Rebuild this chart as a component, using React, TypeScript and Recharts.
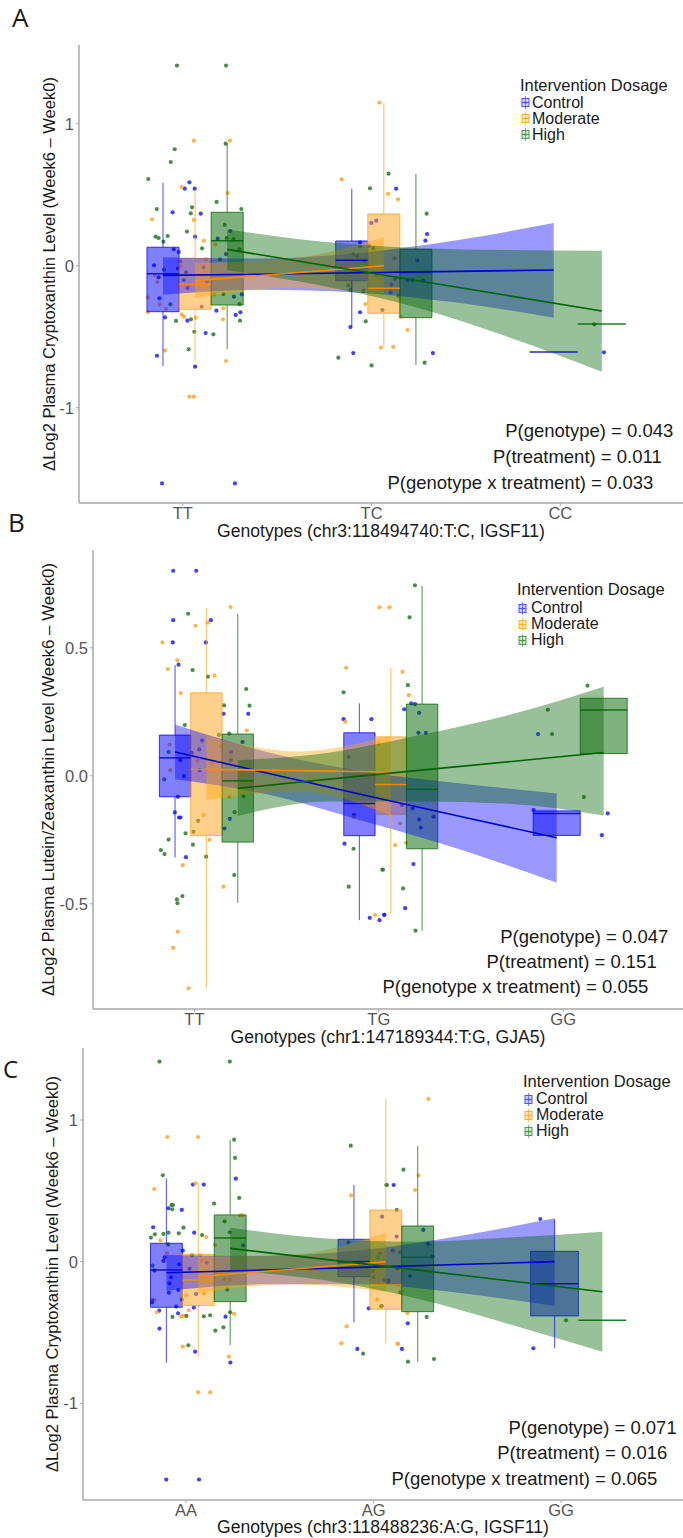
import React from 'react';
import { ComposedChart, XAxis, YAxis, Scatter, Line, Area, ReferenceArea, ReferenceLine } from 'recharts';

type Trt = 'Control' | 'Moderate' | 'High';
type Box = { cat: number; trt: Trt; lo: number; q1: number; med: number; q3: number; hi: number };
type Fit = { x: number; fit: number; lo: number; hi: number };
type Pt = [number, number];

const treatments: Trt[] = ['Control', 'Moderate', 'High'];
const legendTitle = 'Intervention Dosage';

// ---------- panel A ----------
const genotypesA = ['TT', 'TC', 'CC'];
const xTitleA = 'Genotypes (chr3:118494740:T:C, IGSF11)';
const yTitleA = 'ΔLog2 Plasma Cryptoxanthin Level (Week6 – Week0)';
const pvalsA = ['P(genotype) = 0.043', 'P(treatment) = 0.011', 'P(genotype x treatment) = 0.033'];

const boxesA: Box[] = [
  { cat: 1, trt: 'Control', lo: -0.707, q1: -0.324, med: -0.056, q3: 0.13, hi: 0.584 },
  { cat: 1, trt: 'Moderate', lo: -0.664, q1: -0.307, med: -0.131, q3: 0.052, hi: 0.533 },
  { cat: 1, trt: 'High', lo: -0.589, q1: -0.277, med: 0.176, q3: 0.376, hi: 0.862 },
  { cat: 2, trt: 'Control', lo: -0.43, q1: -0.106, med: 0.038, q3: 0.174, hi: 0.542 },
  { cat: 2, trt: 'Moderate', lo: -0.57, q1: -0.335, med: -0.159, q3: 0.364, hi: 1.148 },
  { cat: 2, trt: 'High', lo: -0.7, q1: -0.366, med: -0.048, q3: 0.115, hi: 0.646 },
  { cat: 3, trt: 'Control', lo: -0.608, q1: -0.608, med: -0.608, q3: -0.608, hi: -0.608 },
  { cat: 3, trt: 'High', lo: -0.41, q1: -0.41, med: -0.41, q3: -0.41, hi: -0.41 },
];

const fitControlA: Fit[] = [
  { x: 0.895, fit: -0.068, lo: -0.205, hi: 0.06 },
  { x: 1.41, fit: -0.06, lo: -0.17, hi: 0.05 },
  { x: 1.93, fit: -0.05, lo: -0.19, hi: 0.09 },
  { x: 2.45, fit: -0.04, lo: -0.26, hi: 0.18 },
  { x: 2.965, fit: -0.03, lo: -0.366, hi: 0.3 },
];
const fitModerateA: Fit[] = [
  { x: 1.065, fit: -0.105, lo: -0.23, hi: 0.02 },
  { x: 1.565, fit: -0.053, lo: -0.155, hi: 0.05 },
  { x: 2.065, fit: 0.0, lo: -0.2, hi: 0.2 },
];
const fitHighA: Fit[] = [
  { x: 1.235, fit: 0.115, lo: -0.03, hi: 0.255 },
  { x: 1.73, fit: 0.007, lo: -0.14, hi: 0.17 },
  { x: 2.23, fit: -0.102, lo: -0.29, hi: 0.125 },
  { x: 2.72, fit: -0.21, lo: -0.5, hi: 0.11 },
  { x: 3.22, fit: -0.319, lo: -0.746, hi: 0.106 },
];

const ptsControlA: Pt[] = [
  [1.035, 0.587], [1.01, 0.542], [1.063, 0.542], [0.946, 0.376], [1.095, 0.366], [1.065, 0.204], [0.952, 0.115],
  [0.978, 0.096], [1.185, 0.19], [1.252, 0.244], [1.229, 0.082], [0.985, 0.031], [0.847, 0.003], [0.974, -0.019],
  [0.872, -0.082], [1.017, -0.047], [1.005, -0.101], [1.11, -0.012], [1.026, -0.157], [1.128, -0.11], [0.876, -0.23],
  [0.906, -0.364], [1.024, -0.387], [1.271, -0.218], [1.312, -0.202], [1.178, -0.317], [1.28, -0.347], [1.305, -0.328],
  [1.121, -0.474], [0.863, -0.634], [1.065, -0.711], [0.89, -1.533], [1.276, -1.533],
  [2.13, 0.542], [1.999, 0.301], [2.025, 0.317], [1.939, 0.165], [2.009, 0.122], [1.986, 0.139], [2.126, -0.094],
  [1.939, -0.328], [1.888, -0.432], [1.903, -0.615], [2.101, -0.188], [2.294, 0.223], [2.285, 0.176], [2.242, 0.038],
  [2.105, -0.131], [2.19, -0.101], [2.216, -0.101], [2.272, -0.103], [2.325, -0.615],
  [3.231, -0.61],
];
const ptsModerateA: Pt[] = [
  [1.059, 0.88], [1.25, 0.88], [0.994, 0.554], [1.238, 0.512], [0.837, 0.327], [1.058, 0.322], [1.112, 0.176],
  [1.172, 0.15], [1.123, 0.047], [0.853, -0.068], [0.865, -0.115], [0.989, -0.002], [0.814, -0.225], [0.877, -0.272],
  [0.911, -0.305], [0.815, -0.328], [0.994, -0.343], [1.006, -0.359], [1.068, -0.366], [1.167, -0.202], [1.215, -0.3],
  [1.213, -0.378], [0.906, -0.598], [1.229, -0.671], [1.035, -0.922], [1.059, -0.922],
  [1.842, 0.608], [2.041, 1.148], [2.087, 0.505], [2.14, 0.467], [1.967, -0.27], [2.05, -0.577], [2.115, -0.572],
  [2.154, -0.359], [2.191, -0.453],
];
const ptsHighA: Pt[] = [
  [0.969, 1.409], [1.229, 1.409], [1.227, 0.859], [0.957, 0.82], [0.936, 0.73], [0.817, 0.61], [1.049, 0.411],
  [1.042, 0.369], [0.862, 0.399], [1.179, 0.449], [1.31, 0.399], [0.856, 0.204], [0.872, 0.195], [0.92, 0.209],
  [0.897, 0.169], [1.022, 0.24], [1.102, 0.122], [1.222, 0.287], [1.232, 0.195], [1.268, 0.188], [1.197, 0.045],
  [1.3, 0.115], [0.9, -0.028], [0.934, -0.272], [0.964, -0.389], [1.043, -0.378], [1.215, -0.2], [1.1, -0.289],
  [1.3, -0.27], [1.303, -0.387], [1.162, -0.483], [1.031, -0.589], [1.061, -0.465],
  [1.992, 0.545], [2.09, 0.648], [1.939, 0.136], [1.925, 0.068], [1.904, 0.08], [1.962, 0.031], [2.122, 0.052],
  [2.027, -0.066], [1.877, -0.138], [1.888, -0.169], [1.957, -0.178], [2.057, -0.312], [1.969, -0.392], [1.824, -0.648],
  [2.0, -0.702], [2.292, 0.366], [2.142, -0.213], [2.281, -0.683],
  [3.18, -0.413],
];

// ---------- panel B ----------
const genotypesB = ['TT', 'TG', 'GG'];
const xTitleB = 'Genotypes (chr1:147189344:T:G, GJA5)';
const yTitleB = 'ΔLog2 Plasma Lutein/Zeaxanthin Level (Week6 – Week0)';
const pvalsB = ['P(genotype) = 0.047', 'P(treatment) = 0.151', 'P(genotype x treatment) = 0.055'];

const boxesB: Box[] = [
  { cat: 1, trt: 'Control', lo: -0.319, q1: -0.082, med: 0.07, q3: 0.159, hi: 0.432 },
  { cat: 1, trt: 'Moderate', lo: -0.83, q1: -0.234, med: 0.025, q3: 0.324, hi: 0.656 },
  { cat: 1, trt: 'High', lo: -0.496, q1: -0.259, med: -0.02, q3: 0.163, hi: 0.632 },
  { cat: 2, trt: 'Control', lo: -0.564, q1: -0.234, med: -0.108, q3: 0.168, hi: 0.283 },
  { cat: 2, trt: 'Moderate', lo: -0.54, q1: -0.15, med: -0.034, q3: 0.152, hi: 0.422 },
  { cat: 2, trt: 'High', lo: -0.605, q1: -0.285, med: -0.053, q3: 0.28, hi: 0.742 },
  { cat: 3, trt: 'Control', lo: -0.233, q1: -0.233, med: -0.147, q3: -0.137, hi: -0.137 },
  { cat: 3, trt: 'High', lo: 0.087, q1: 0.087, med: 0.257, q3: 0.303, hi: 0.303 },
];

const fitControlB: Fit[] = [
  { x: 0.895, fit: 0.093, lo: -0.014, hi: 0.2 },
  { x: 1.41, fit: 0.008, lo: -0.075, hi: 0.09 },
  { x: 1.93, fit: -0.077, lo: -0.18, hi: 0.015 },
  { x: 2.45, fit: -0.16, lo: -0.29, hi: -0.03 },
  { x: 2.965, fit: -0.242, lo: -0.418, hi: -0.069 },
];
const fitModerateB: Fit[] = [
  { x: 1.065, fit: 0.025, lo: -0.095, hi: 0.155 },
  { x: 1.565, fit: 0.02, lo: -0.06, hi: 0.095 },
  { x: 2.065, fit: 0.015, lo: -0.155, hi: 0.158 },
];
const fitHighB: Fit[] = [
  { x: 1.235, fit: -0.049, lo: -0.157, hi: 0.061 },
  { x: 1.73, fit: -0.013, lo: -0.1, hi: 0.09 },
  { x: 2.23, fit: 0.022, lo: -0.1, hi: 0.16 },
  { x: 2.72, fit: 0.056, lo: -0.11, hi: 0.24 },
  { x: 3.22, fit: 0.091, lo: -0.155, hi: 0.348 },
];

const ptsControlB: Pt[] = [
  [0.885, 0.801], [1.01, 0.801], [1.089, 0.608], [0.885, 0.608], [0.883, 0.521], [1.062, 0.521], [0.914, 0.434],
  [1.158, 0.242], [1.292, 0.242], [1.042, 0.138], [1.026, 0.103], [0.986, 0.09], [0.923, 0.061], [1.199, 0.093],
  [1.261, 0.132], [0.943, -0.001], [1.029, 0.022], [1.198, 0.061], [0.91, -0.082], [0.894, -0.143], [0.916, -0.163],
  [0.925, -0.163], [1.192, -0.168], [1.163, -0.206], [0.954, -0.318],
  [1.809, 0.221], [1.96, 0.221], [1.865, -0.153], [1.814, -0.265], [1.951, -0.555], [2.004, -0.564], [2.029, -0.543],
  [2.138, 0.26], [2.176, 0.283], [2.197, 0.28], [2.219, 0.246], [2.215, 0.168], [2.255, 0.168], [2.125, -0.114],
  [2.183, -0.127], [2.219, -0.171], [2.228, -0.203], [2.297, -0.16], [2.188, -0.345], [2.143, -0.517], [2.03, -0.543],
  [2.864, 0.163], [2.839, -0.134], [3.242, -0.147], [3.21, -0.232],
];
const ptsModerateB: Pt[] = [
  [1.073, 0.598], [1.006, 0.586], [1.196, 0.659], [0.827, 0.521], [0.907, 0.451], [0.856, 0.417], [1.109, 0.391],
  [0.926, 0.323], [1.284, 0.177], [0.865, 0.122], [1.143, 0.116], [1.017, 0.059], [0.869, 0.022], [1.095, 0.048],
  [1.189, -0.082], [1.049, -0.154], [1.082, -0.25], [0.937, -0.349], [1.158, -0.433], [0.91, -0.609], [0.885, -0.672],
  [0.968, -0.83],
  [2.004, 0.658], [2.058, 0.658], [1.823, 0.422], [1.818, 0.211], [1.998, 0.126], [1.863, -0.16], [1.98, -0.544],
  [2.089, -0.271], [1.93, -0.108], [2.129, 0.406], [2.163, 0.315], [2.116, -0.186], [2.148, -0.262],
];
const ptsHighB: Pt[] = [
  [0.966, 0.633], [0.99, 0.413], [1.073, 0.387], [1.281, 0.339], [1.161, 0.275], [1.299, 0.274], [0.948, 0.198],
  [1.133, 0.16], [1.189, 0.165], [0.86, 0.093], [0.836, -0.014], [1.266, -0.079], [1.02, -0.176], [1.218, -0.142],
  [0.952, -0.225], [0.995, -0.219], [0.86, -0.249], [0.818, -0.29], [0.838, -0.306], [0.992, -0.269], [1.064, -0.316],
  [1.216, -0.388], [0.905, -0.483], [0.935, -0.47], [0.908, -0.498],
  [1.809, 0.326], [1.836, 0.074], [1.863, -0.285], [2.022, -0.366], [1.837, -0.433], [2.196, 0.744], [2.167, 0.619],
  [2.158, 0.354], [2.02, -0.367], [2.132, -0.44], [2.199, -0.605],
  [3.132, 0.352], [2.917, 0.258], [2.94, 0.163], [3.112, -0.083],
];

// ---------- panel C ----------
const genotypesC = ['AA', 'AG', 'GG'];
const xTitleC = 'Genotypes (chr3:118488236:A:G, IGSF11)';
const yTitleC = 'ΔLog2 Plasma Cryptoxanthin Level (Week6 – Week0)';
const pvalsC = ['P(genotype) = 0.071', 'P(treatment) = 0.016', 'P(genotype x treatment) = 0.065'];

const boxesC: Box[] = [
  { cat: 1, trt: 'Control', lo: -0.713, q1: -0.322, med: -0.059, q3: 0.13, hi: 0.586 },
  { cat: 1, trt: 'Moderate', lo: -0.67, q1: -0.31, med: -0.129, q3: 0.052, hi: 0.553 },
  { cat: 1, trt: 'High', lo: -0.59, q1: -0.282, med: 0.167, q3: 0.33, hi: 0.859 },
  { cat: 2, trt: 'Control', lo: -0.43, q1: -0.106, med: 0.0, q3: 0.158, hi: 0.541 },
  { cat: 2, trt: 'Moderate', lo: -0.576, q1: -0.336, med: -0.165, q3: 0.365, hi: 1.148 },
  { cat: 2, trt: 'High', lo: -0.706, q1: -0.353, med: 0.031, q3: 0.252, hi: 0.817 },
  { cat: 3, trt: 'Control', lo: -0.611, q1: -0.383, med: -0.155, q3: 0.073, hi: 0.3 },
  { cat: 3, trt: 'High', lo: -0.414, q1: -0.414, med: -0.414, q3: -0.414, hi: -0.414 },
];

const fitControlC: Fit[] = [
  { x: 0.895, fit: -0.078, lo: -0.205, hi: 0.047 },
  { x: 1.41, fit: -0.059, lo: -0.16, hi: 0.04 },
  { x: 1.93, fit: -0.04, lo: -0.16, hi: 0.08 },
  { x: 2.45, fit: -0.02, lo: -0.22, hi: 0.18 },
  { x: 2.965, fit: 0.0, lo: -0.313, hi: 0.306 },
];
const fitModerateC: Fit[] = [
  { x: 1.065, fit: -0.106, lo: -0.223, hi: 0.035 },
  { x: 1.565, fit: -0.053, lo: -0.16, hi: 0.05 },
  { x: 2.065, fit: 0.0, lo: -0.212, hi: 0.205 },
];
const fitHighC: Fit[] = [
  { x: 1.235, fit: 0.094, lo: -0.059, hi: 0.24 },
  { x: 1.73, fit: 0.018, lo: -0.13, hi: 0.165 },
  { x: 2.23, fit: -0.058, lo: -0.26, hi: 0.14 },
  { x: 2.72, fit: -0.135, lo: -0.44, hi: 0.17 },
  { x: 3.22, fit: -0.212, lo: -0.635, hi: 0.212 },
];

const ptsControlC: Pt[] = [
  [1.265, 0.586], [1.036, 0.544], [1.094, 0.544], [0.906, 0.377], [0.977, 0.365], [0.824, 0.243], [1.043, 0.205],
  [0.982, 0.078], [0.886, 0.031], [0.879, 0.005], [0.831, -0.063], [1.11, -0.007], [0.963, -0.019], [1.018, -0.049],
  [0.92, -0.11], [1.304, 0.115], [0.911, -0.153], [0.958, -0.2], [0.908, -0.219], [1.053, -0.228], [0.819, -0.287],
  [0.856, -0.346], [0.947, -0.317], [0.957, -0.364], [1.041, -0.324], [1.21, -0.388], [0.858, -0.472], [1.048, -0.635],
  [1.236, -0.712], [0.894, -1.538], [1.069, -1.538],
  [2.107, 0.541], [2.045, 0.318], [2.102, 0.078], [1.997, -0.066], [1.999, -0.11], [2.056, -0.129], [1.974, -0.329],
  [1.913, -0.616], [2.265, 0.224], [2.123, 0.177], [2.29, 0.125], [2.315, 0.036], [2.128, -0.047], [2.194, -0.101],
  [2.057, -0.13], [2.182, -0.435], [2.151, -0.616],
  [2.889, 0.301], [2.852, -0.611],
];
const ptsModerateC: Pt[] = [
  [0.9, 0.88], [1.064, 0.88], [0.83, 0.513], [1.05, 0.553], [1.288, 0.327], [1.3, 0.327], [1.107, 0.174],
  [0.863, 0.151], [1.076, 0.045], [0.897, 0.059], [1.082, 0.005], [1.204, -0.124], [1.233, -0.129], [1.153, 0.118],
  [1.0, -0.237], [1.096, -0.224], [0.83, -0.27], [0.844, -0.357], [0.973, -0.386], [0.986, -0.383], [1.014, -0.343],
  [1.256, -0.369], [0.982, -0.6], [1.228, -0.67], [1.064, -0.922], [1.128, -0.922],
  [1.88, 0.468], [2.018, -0.268], [1.856, -0.456], [1.828, -0.576], [2.128, -0.578], [2.292, 1.148], [2.239, 0.609],
  [2.221, 0.506], [2.18, -0.364], [2.13, -0.581],
];
const ptsHighC: Pt[] = [
  [0.858, 1.412], [1.233, 1.412], [1.256, 0.861], [1.261, 0.732], [0.876, 0.61], [1.283, 0.45], [1.149, 0.41],
  [0.922, 0.4], [0.93, 0.4], [0.926, 0.37], [1.205, 0.285], [0.986, 0.24], [1.233, 0.207], [0.812, 0.17],
  [0.833, 0.193], [0.879, 0.196], [0.906, 0.205], [0.961, 0.2], [1.085, 0.188], [0.904, 0.122], [1.032, 0.045],
  [0.821, -0.028], [0.977, -0.268], [1.219, -0.197], [0.819, -0.275], [0.927, -0.39], [1.002, -0.383], [1.094, -0.386],
  [1.128, -0.378], [1.235, -0.357], [1.156, -0.487], [1.199, -0.463], [1.012, -0.59],
  [1.878, 0.819], [2.07, 0.541], [2.123, 0.365], [1.865, 0.137], [2.022, 0.031], [2.034, 0.057], [2.08, -0.134],
  [2.041, -0.315], [1.944, -0.649], [2.159, 0.649], [2.068, 0.541], [2.141, 0.066], [2.078, -0.141], [2.141, -0.216],
  [2.043, -0.313], [2.283, -0.39], [2.183, -0.706], [2.322, -0.687],
  [3.026, -0.414],
];

// ---------- styles ----------
const pointColor: Record<Trt, string> = { Control: '#1f1fff', Moderate: '#ffa62b', High: '#2a7a2a' };
const boxColor: Record<Trt, string> = { Control: '#0000ff', Moderate: '#ff9f1a', High: '#006400' };
const fitColor: Record<Trt, string> = { Control: '#0000cd', Moderate: '#ff8c00', High: '#006400' };
const bandColor: Record<Trt, string> = { Control: '#0000ff', Moderate: '#ffa500', High: '#006400' };
const glyphColor: Record<Trt, string> = { Control: '#5050ff', Moderate: '#ffaa33', High: '#4c9a4c' };

const DODGE: Record<number, number[]> = { 3: [-0.105, 0.065, 0.235], 2: [-0.035, 0.22] };
const BOXW: Record<number, number> = { 3: 0.17, 2: 0.255 };
const AXIS = '#a8a8a8';
const INK = '#1a1a1a';

function placeBoxes(boxes: Box[]) {
  return boxes.map((b) => {
    const group = boxes.filter((o) => o.cat === b.cat);
    const n = group.length;
    const i = group.indexOf(b);
    return { ...b, cx: b.cat + DODGE[n][i], w: BOXW[n] };
  });
}

function fitRows(fits: Record<Trt, Fit[]>) {
  const rows: any[] = [];
  treatments.forEach((t) =>
    fits[t].forEach((f) => rows.push({ x: f.x, [t + 'Fit']: f.fit, [t + 'Band']: [f.lo, f.hi] }))
  );
  return rows.sort((a, b) => a.x - b.x);
}

type PanelProps = {
  top: number;
  height: number;
  plotLeft: number;
  xAxisHeight: number;
  yDomain: [number, number];
  yTicks: number[];
  yDigits: number;
  genotypes: string[];
  xTitle: string;
  xTitleOffset: number;
  yTitle: string;
  yTitleOffset: number;
  yTitleSize: number;
  boxes: Box[];
  fits: Record<Trt, Fit[]>;
  points: Record<Trt, Pt[]>;
};

function Panel(p: PanelProps) {
  const placed = placeBoxes(p.boxes);
  const rows = fitRows(p.fits);
  return (
    <div style={{ position: 'absolute', left: 0, top: p.top }}>
      <ComposedChart width={683} height={p.height} data={rows} margin={{ top: 45, right: 0, bottom: 0, left: 0 }}>
        <XAxis
          type="number"
          dataKey="x"
          domain={[0.45, 3.65]}
          ticks={[1, 2, 3]}
          interval={0}
          allowDataOverflow
          height={p.xAxisHeight}
          tickFormatter={(v: number) => p.genotypes[v - 1]}
          tick={{ fill: '#555', fontSize: 16.5 }}
          tickSize={3}
          tickMargin={1}
          axisLine={{ stroke: AXIS, strokeWidth: 1.5 }}
          tickLine={{ stroke: AXIS }}
          label={{ value: p.xTitle, position: 'insideBottom', offset: p.xTitleOffset, fill: INK, fontSize: 17.6 }}
        />
        <YAxis
          type="number"
          dataKey="y"
          domain={p.yDomain}
          ticks={p.yTicks}
          interval={0}
          allowDataOverflow
          width={p.plotLeft}
          tickFormatter={(v: number) => v.toFixed(p.yDigits)}
          tick={{ fill: '#555', fontSize: 16.5 }}
          tickSize={3}
          tickMargin={2}
          axisLine={{ stroke: AXIS, strokeWidth: 1.5 }}
          tickLine={{ stroke: AXIS }}
          label={{
            value: p.yTitle,
            angle: -90,
            position: 'insideLeft',
            offset: p.yTitleOffset,
            fill: INK,
            fontSize: p.yTitleSize,
            style: { textAnchor: 'middle' },
          }}
        />
        {treatments.map((t) => (
          <Scatter
            key={'pts' + t}
            data={p.points[t].map(([x, y]) => ({ x, y }))}
            dataKey="y"
            zIndex={50}
            isAnimationActive={false}
            shape={(s: any) => <circle cx={s.cx} cy={s.cy} r={2.1} fill={pointColor[t]} fillOpacity={0.85} />}
          />
        ))}
        {placed
          .filter((b) => b.q3 > b.q1)
          .map((b, i) => (
            <ReferenceArea
              key={'box' + i}
              x1={b.cx - b.w / 2}
              x2={b.cx + b.w / 2}
              y1={b.q1}
              y2={b.q3}
              fill={boxColor[b.trt]}
              fillOpacity={0.5}
              stroke={boxColor[b.trt]}
              strokeOpacity={0.75}
              strokeWidth={1}
            />
          ))}
        {placed
          .filter((b) => b.hi > b.q3)
          .map((b, i) => (
            <ReferenceLine
              key={'wu' + i}
              segment={[{ x: b.cx, y: b.q3 }, { x: b.cx, y: b.hi }]}
              stroke={boxColor[b.trt]}
              strokeOpacity={0.6}
              strokeWidth={1.2}
            />
          ))}
        {placed
          .filter((b) => b.q1 > b.lo)
          .map((b, i) => (
            <ReferenceLine
              key={'wl' + i}
              segment={[{ x: b.cx, y: b.lo }, { x: b.cx, y: b.q1 }]}
              stroke={boxColor[b.trt]}
              strokeOpacity={0.6}
              strokeWidth={1.2}
            />
          ))}
        {treatments.map((t) => (
          <Area
            key={'band' + t}
            dataKey={t + 'Band'}
            type="monotone"
            connectNulls
            stroke="none"
            fill={bandColor[t]}
            fillOpacity={0.4}
            dot={false}
            activeDot={false}
            isAnimationActive={false}
          />
        ))}
        {placed.map((b, i) => (
          <ReferenceLine
            key={'med' + i}
            segment={[{ x: b.cx - b.w / 2, y: b.med }, { x: b.cx + b.w / 2, y: b.med }]}
            stroke={fitColor[b.trt]}
            strokeOpacity={0.85}
            strokeWidth={1.5}
          />
        ))}
        {treatments.map((t) => (
          <Line
            key={'fit' + t}
            dataKey={t + 'Fit'}
            type="linear"
            connectNulls
            stroke={fitColor[t]}
            strokeWidth={1.6}
            dot={false}
            activeDot={false}
            isAnimationActive={false}
          />
        ))}
      </ComposedChart>
    </div>
  );
}

const FS_LEG = 16;
const FS_P = 18.5;

function Txt({ x, y, size, right, children, family }: any) {
  const capOffset = family ? 0.531 : 0.49;
  const style: React.CSSProperties = {
    position: 'absolute',
    top: y - capOffset * size,
    fontSize: size,
    lineHeight: 1,
    whiteSpace: 'nowrap',
    color: INK,
    fontFamily: family,
  };
  if (right !== undefined) style.right = 683 - right;
  else style.left = x;
  return <div style={style}>{children}</div>;
}

function Glyph({ t, x, y }: { t: Trt; x: number; y: number }) {
  const c = glyphColor[t];
  return (
    <svg width={9} height={13} style={{ position: 'absolute', left: x, top: y - 6.5 }}>
      <line x1={4.5} y1={0} x2={4.5} y2={13} stroke={c} strokeOpacity={0.7} />
      <rect x={1} y={2.5} width={7} height={8} fill={c} fillOpacity={0.25} stroke={c} />
      <line x1={1} y1={6.5} x2={8} y2={6.5} stroke={c} />
      <circle cx={4.5} cy={6.5} r={1.2} fill={c} />
    </svg>
  );
}

function Legend({ x, titleY, rows, textX }: { x: number; titleY: number; rows: number[]; textX: number }) {
  return (
    <>
      <Txt x={x} y={titleY} size={FS_LEG + 0.5}>{legendTitle}</Txt>
      {treatments.map((t, i) => (
        <React.Fragment key={t}>
          <Glyph t={t} x={x + 1} y={rows[i]} />
          <Txt x={textX} y={rows[i]} size={FS_LEG}>{t}</Txt>
        </React.Fragment>
      ))}
    </>
  );
}

function PValues({ lines, rights, ys }: { lines: string[]; rights: number[]; ys: number[] }) {
  return (
    <>
      {lines.map((s, i) => (
        <Txt key={s} right={rights[i]} y={ys[i]} size={FS_P}>{s}</Txt>
      ))}
    </>
  );
}

export default function App() {
  return (
    <div
      style={{
        position: 'absolute',
        left: 0,
        top: 0,
        width: 683,
        height: 1538,
        background: '#fff',
        overflow: 'hidden',
        fontFamily: '"Liberation Sans", Arial, sans-serif',
      }}
    >
      <Panel
        top={0}
        height={545}
        plotLeft={79}
        xAxisHeight={42}
        yDomain={[-1.671, 1.554]}
        yTicks={[-1, 0, 1]}
        yDigits={0}
        genotypes={genotypesA}
        xTitle={xTitleA}
        xTitleOffset={8}
        yTitle={yTitleA}
        yTitleOffset={49}
        yTitleSize={16.5}
        boxes={boxesA}
        fits={{ Control: fitControlA, Moderate: fitModerateA, High: fitHighA }}
        points={{ Control: ptsControlA, Moderate: ptsModerateA, High: ptsHighA }}
      />
      <Panel
        top={505}
        height={546}
        plotLeft={93}
        xAxisHeight={42}
        yDomain={[-0.911, 0.882]}
        yTicks={[-0.5, 0, 0.5]}
        yDigits={1}
        genotypes={genotypesB}
        xTitle={xTitleB}
        xTitleOffset={8.5}
        yTitle={yTitleB}
        yTitleOffset={48}
        yTitleSize={16.9}
        boxes={boxesB}
        fits={{ Control: fitControlB, Moderate: fitModerateB, High: fitHighB }}
        points={{ Control: ptsControlB, Moderate: ptsModerateB, High: ptsHighB }}
      />
      <Panel
        top={1003}
        height={535}
        plotLeft={83}
        xAxisHeight={38}
        yDomain={[-1.682, 1.508]}
        yTicks={[-1, 0, 1]}
        yDigits={0}
        genotypes={genotypesC}
        xTitle={xTitleC}
        xTitleOffset={5}
        yTitle={yTitleC}
        yTitleOffset={52}
        yTitleSize={16.6}
        boxes={boxesC}
        fits={{ Control: fitControlC, Moderate: fitModerateC, High: fitHighC }}
        points={{ Control: ptsControlC, Moderate: ptsModerateC, High: ptsHighC }}
      />

      <Txt x={12} y={17.5} size={26} family='"Open Sans", sans-serif'>A</Txt>
      <Txt x={8} y={522.5} size={26} family='"Open Sans", sans-serif'>B</Txt>
      <Txt x={3} y={1070} size={24} family='"Open Sans", sans-serif'>C</Txt>

      <Legend x={520} titleY={84.8} rows={[102.5, 118.5, 134.5]} textX={532} />
      <Legend x={517} titleY={589.2} rows={[608.2, 624.2, 640.2]} textX={531} />
      <Legend x={523} titleY={1080.8} rows={[1099, 1115, 1131]} textX={536} />

      <PValues lines={pvalsA} rights={[673.3, 661.7, 653.3]} ys={[431, 457.2, 482.7]} />
      <PValues lines={pvalsB} rights={[668.3, 656.7, 648.3]} ys={[936.7, 962.5, 987.5]} />
      <PValues lines={pvalsC} rights={[676.7, 667.3, 657.3]} ys={[1427.8, 1453.3, 1478.8]} />
    </div>
  );
}
